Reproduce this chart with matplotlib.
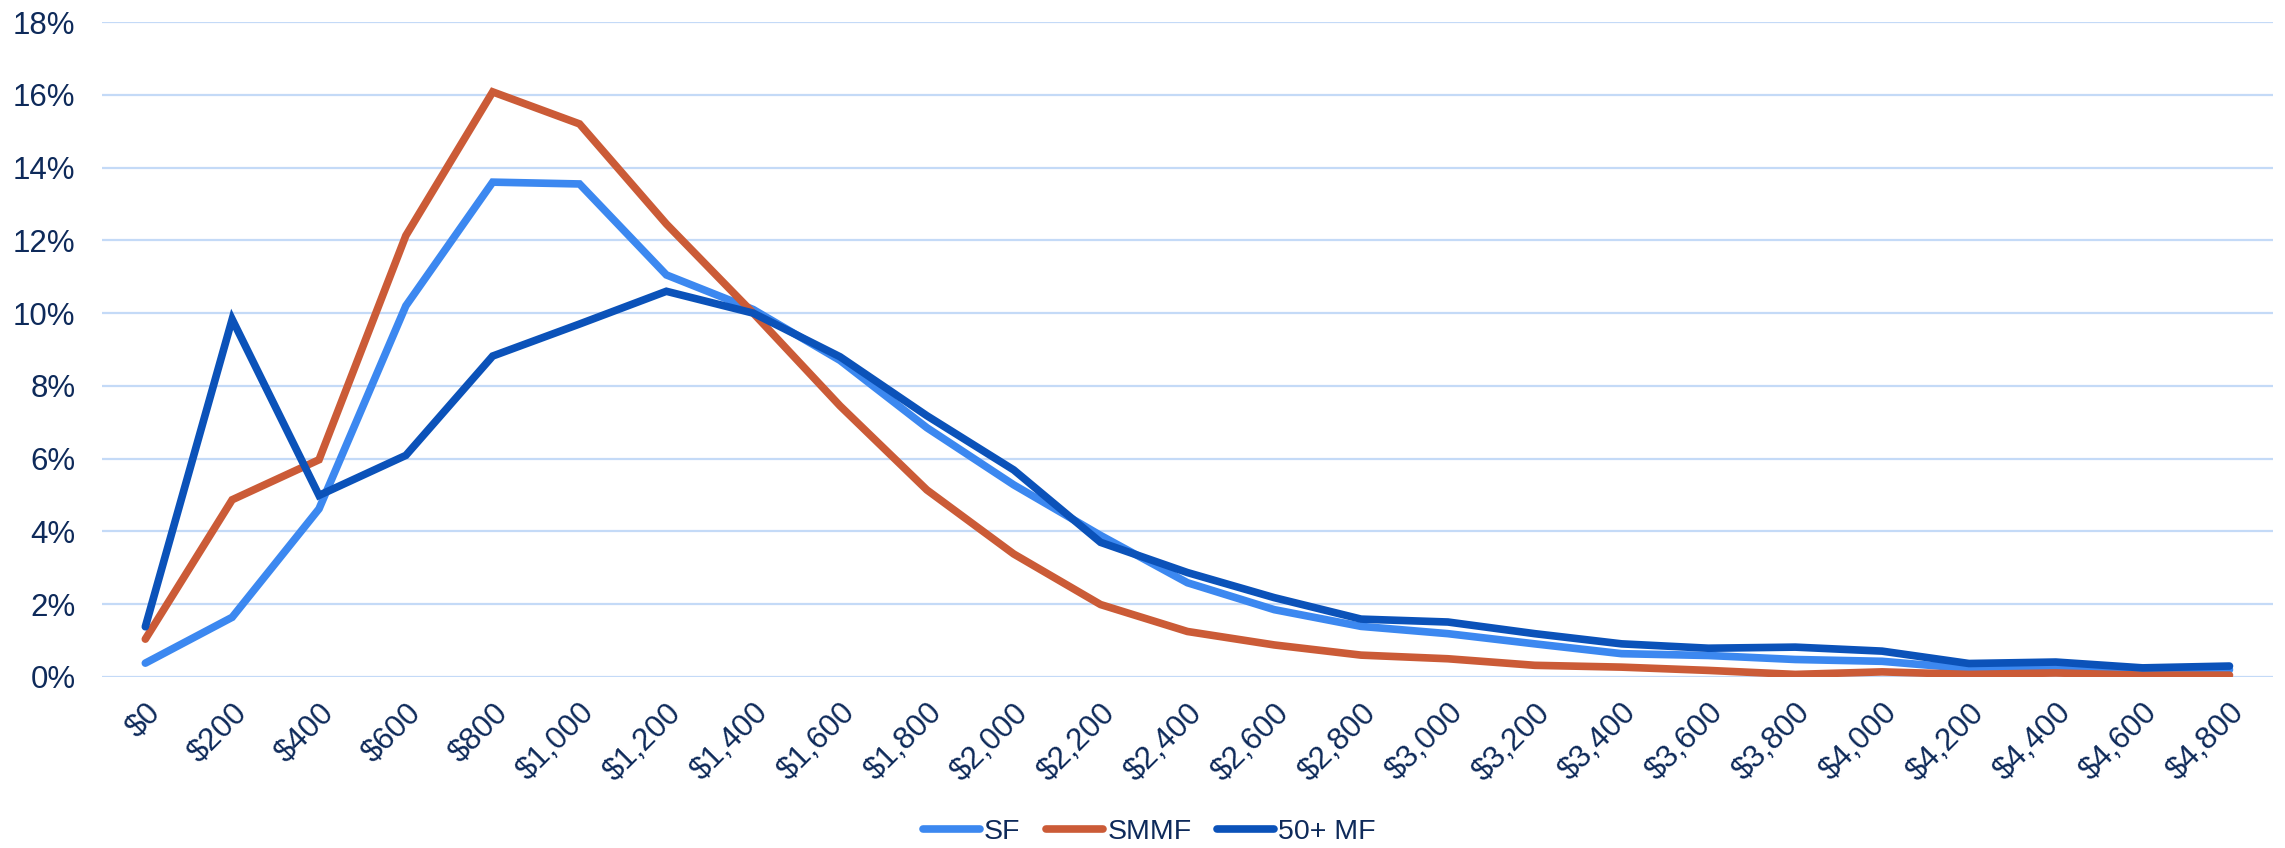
import numpy as np
import matplotlib.pyplot as plt
from matplotlib.ticker import PercentFormatter

plt.rcParams['font.family'] = ['Liberation Sans', 'DejaVu Sans']

# rent buckets and share of units (%) in each bucket
rent_labels = ["$0", "$200", "$400", "$600", "$800", "$1,000", "$1,200", "$1,400",
               "$1,600", "$1,800", "$2,000", "$2,200", "$2,400", "$2,600", "$2,800",
               "$3,000", "$3,200", "$3,400", "$3,600", "$3,800", "$4,000", "$4,200",
               "$4,400", "$4,600", "$4,800"]

sf = [0.38, 1.64, 4.62, 10.2, 13.6, 13.55, 11.05, 10.1,
      8.7, 6.85, 5.28, 3.89, 2.59, 1.85, 1.39,
      1.19, 0.91, 0.64, 0.59, 0.48, 0.43, 0.23,
      0.23, 0.18, 0.2]
smmf = [1.04, 4.87, 5.97, 12.13, 16.08, 15.2, 12.45, 10.0,
        7.45, 5.14, 3.38, 1.99, 1.25, 0.88, 0.6,
        0.5, 0.32, 0.27, 0.18, 0.07, 0.14, 0.07,
        0.11, 0.05, 0.05]
mf50 = [1.38, 9.83, 4.99, 6.09, 8.82, 9.7, 10.6, 10.0,
        8.8, 7.18, 5.69, 3.7, 2.87, 2.18, 1.59,
        1.51, 1.19, 0.91, 0.79, 0.82, 0.71, 0.37,
        0.41, 0.25, 0.3]

text_col = "#0e2a5a"
grid_col = "#c4daf7"

fig = plt.figure(figsize=(22.85, 8.48), dpi=100)
ax = fig.add_axes([0.0446, 0.2017, 0.9501, 0.7723])

x = np.arange(len(rent_labels))
line_kw = dict(lw=5.5, solid_capstyle="round", solid_joinstyle="miter")
ax.plot(x, sf, color="#3c88f0", label="SF", zorder=3, **line_kw)
ax.plot(x, smmf, color="#cb5b37", label="SMMF", zorder=3, **line_kw)
ax.plot(x, mf50, color="#0b52b9", label="50+ MF", zorder=4, **line_kw)

ax.set_xlim(-0.5, len(rent_labels) - 0.5)
ax.set_ylim(0, 18)
ax.set_yticks(np.arange(0, 19, 2))
ax.yaxis.set_major_formatter(PercentFormatter(decimals=0))
ax.set_xticks(x)
ax.set_xticklabels(rent_labels, rotation=45, ha="right", rotation_mode="anchor")

ax.grid(axis="y", color=grid_col, lw=1.6)
ax.set_axisbelow(True)
for s in ax.spines.values():
    s.set_visible(False)
ax.tick_params(axis="both", length=0, labelsize=22.5, colors=text_col)
ax.tick_params(axis="y", pad=19)
ax.tick_params(axis="x", pad=15)

leg = fig.legend(*ax.get_legend_handles_labels(), loc="center", bbox_to_anchor=(0.503, 0.019),
                 ncol=3, frameon=False, fontsize=20.5, handlelength=2.0,
                 handletextpad=0.15, columnspacing=0.9)
for t in leg.get_texts():
    t.set_color(text_col)
for h in leg.get_lines():
    h.set_linewidth(5.5)

fig.savefig("out.png", dpi=100, facecolor="white")
